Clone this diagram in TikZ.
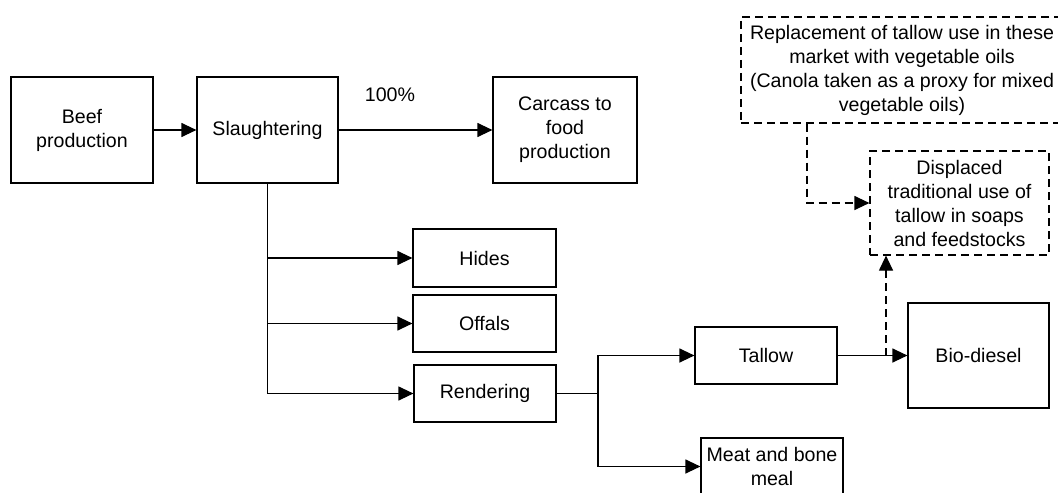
\documentclass[tikz,border=0pt]{standalone}
\usepackage{fontspec}
\setmainfont{Liberation Sans}
\usetikzlibrary{arrows.meta}
\tikzset{
  box/.style={draw, line width=0.6pt, align=center, inner sep=1pt,
              font=\fontsize{9.8}{12}\selectfont},
  dbox/.style={box, dash pattern=on 4pt off 2.5pt},
  flow/.style={line width=0.6pt, -{Triangle[length=7.5pt,width=7pt]}},
  dflow/.style={flow, dash pattern=on 4pt off 2.5pt},
  lbl/.style={font=\fontsize{9.8}{12}\selectfont, inner sep=0pt}
}
\begin{document}
\begin{tikzpicture}[x=0.5pt, y=-0.5pt]
  \clip (0,0) rectangle (1058,492);
  \fill[white] (0,0) rectangle (1058,492);

  % main chain
  \node[box, minimum width=71pt, minimum height=53pt] (beef) at (82,130) {Beef\\production};
  \node[box, minimum width=70.5pt, minimum height=53pt] (slaughter) at (267.5,130) {Slaughtering};
  \node[box, minimum width=72pt, minimum height=53pt] (carcass) at (565,130) {Carcass to\\food\\production};
  \node[lbl] (pct) at (390,95) {100\%};

  % co-products of slaughtering
  \node[box, minimum width=71.5pt, minimum height=29pt] (hides) at (484.5,258) {Hides};
  \node[box, minimum width=71.5pt, minimum height=28.5pt] (offals) at (484.5,323.5) {Offals};
  \node[box, minimum width=71pt, minimum height=28.5pt] (rendering) at (485,393.5) {Rendering};

  % rendering outputs
  \node[box, minimum width=71pt, minimum height=28.5pt] (tallow) at (766,355.5) {Tallow};
  \node[box, minimum width=71pt, minimum height=28.5pt] (meal) at (772,466.5) {Meat and bone\\meal};
  \node[box, minimum width=70.5pt, minimum height=52.5pt] (biodiesel) at (978.5,355.5) {Bio-diesel};

  % displaced uses (dashed)
  \node[dbox, minimum width=89.5pt, minimum height=52pt] (displaced) at (959.5,203)
    {Displaced\\traditional use of\\tallow in soaps\\and feedstocks};
  \node[dbox, minimum width=161pt, minimum height=53pt] (replace) at (902,70)
    {Replacement of tallow use in these\\market with vegetable oils\\(Canola taken as a proxy for mixed\\vegetable oils)};

  % junction points
  \coordinate (split) at (598,393.5);
  \coordinate (tap) at (886,355.5);
  \coordinate (rtap) at (807,203);

  % connectors
  \draw[flow] (beef) -- (slaughter);
  \draw[flow] (slaughter) -- (carcass);
  \draw[flow] (slaughter.south) |- (hides.west);
  \draw[flow] (slaughter.south) |- (offals.west);
  \draw[flow] (slaughter.south) |- (rendering.west);
  \draw[line width=0.6pt] (rendering.east) -- (split);
  \draw[flow] (split) |- (tallow.west);
  \draw[flow] (split) |- (meal.west);
  \draw[flow] (tallow) -- (biodiesel);
  \draw[dflow] (tap) -- (tap |- displaced.south);
  \draw[dflow] (rtap |- replace.south) |- (displaced.west);
\end{tikzpicture}
\end{document}
